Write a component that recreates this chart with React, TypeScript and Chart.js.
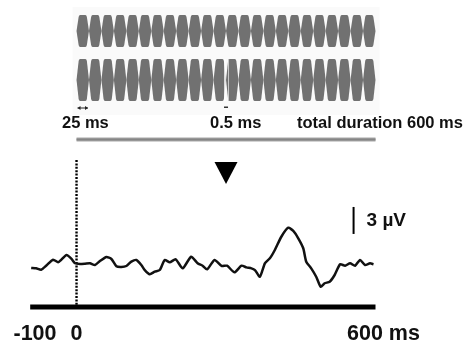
import React, { useEffect, useRef } from "react";
import { Chart, registerables } from "chart.js";

Chart.register(...registerables);

// ERP waveform (time in ms, amplitude in µV)
const timeMs = [
  -91, -81, -71, -61, -47, -37, -31, -20, -10, -3, 7, 17, 27, 37, 47, 60, 70, 80, 90, 100,
  110, 120, 130, 137, 147, 157, 167, 177, 187, 199, 213, 230, 243, 253, 262, 277, 291, 302,
  317, 331, 341, 351, 358, 368, 378, 388, 398, 411, 425, 435, 445, 455, 461, 471, 481, 490,
  498, 508, 518, 529, 539, 549, 559, 569, 579, 589, 596,
];
const amplitudeUv = [
  -0.33, -0.37, -0.52, -0.08, 0.59, 0.3, 0.56, 1.11, 0.67, 0.19, 0.11, 0.14, 0.19, 0.0, 0.44,
  0.89, 0.67, -0.14, -0.22, -0.11, 0.37, 0.56, 0.0, -0.56, -1.03, -0.74, -0.56, 0.56, 0.3,
  0.63, -0.37, 0.92, 0.19, -0.08, -0.48, 0.56, -0.11, -0.08, -0.81, -0.08, -0.26, -0.37,
  -0.56, -1.3, 0.19, 0.74, 1.67, 3.14, 4.14, 3.78, 2.97, 1.86, 0.37, -0.37, -1.3, -2.41,
  -2.03, -1.86, -1.11, 0.08, -0.08, 0.19, -0.08, 0.56, 0.0, 0.19, 0.08,
];

// Stimulus design
const stimPeriodMs = 25;
const totalDurationMs = 600;
const deviantMs = 300;
const scaleBarUv = 3;

// Text
const axisLabels = ["-100", "0", "600 ms"];
const stimLabels = ["25 ms", "0.5 ms", "total duration 600 ms"];
const scaleBarLabel = "3 µV";

const FONT = '"Liberation Sans", Arial, sans-serif';

const decorPlugin = {
  id: "decor",
  beforeDatasetsDraw(chart: any) {
    const ctx = chart.ctx as CanvasRenderingContext2D;
    const xs = (v: number) => chart.scales.x.getPixelForValue(v);
    const ys = (v: number) => chart.scales.y.getPixelForValue(v);
    ctx.save();
    // faint panel behind stimulus trains
    ctx.fillStyle = "#fafafa";
    ctx.fillRect(xs(0) - 4, 7, xs(totalDurationMs) - xs(0) + 8, 108);

    // stimulus trains
    const rows = [
      [15, 47],
      [59, 101],
    ];
    ctx.fillStyle = "#717171";
    const n = Math.round(totalDurationMs / stimPeriodMs);
    rows.forEach(([top, bottom]) => {
      const mid = (top + bottom) / 2;
      for (let i = 0; i < n; i++) {
        const x0 = xs(i * stimPeriodMs);
        const x1 = xs((i + 1) * stimPeriodMs);
        const w = x1 - x0;
        const inset = w * 0.17;
        ctx.beginPath();
        ctx.moveTo(x0, mid);
        ctx.lineTo(x0 + inset, top + 2);
        ctx.quadraticCurveTo(x0 + inset + 0.4, top, x0 + inset + 1.5, top);
        ctx.lineTo(x1 - inset - 1.5, top);
        ctx.quadraticCurveTo(x1 - inset - 0.4, top, x1 - inset, top + 2);
        ctx.lineTo(x1, mid);
        ctx.lineTo(x1 - inset, bottom - 2);
        ctx.quadraticCurveTo(x1 - inset - 0.4, bottom, x1 - inset - 1.5, bottom);
        ctx.lineTo(x0 + inset + 1.5, bottom);
        ctx.quadraticCurveTo(x0 + inset + 0.4, bottom, x0 + inset, bottom - 2);
        ctx.closePath();
        ctx.fill();
      }
    });
    // deviant gap in second row
    const [t2, b2] = rows[1];
    ctx.strokeStyle = "#ffffff";
    ctx.lineWidth = 1.5;
    ctx.beginPath();
    ctx.moveTo(xs(deviantMs) - 1, t2);
    ctx.lineTo(xs(deviantMs) - 1, b2);
    ctx.stroke();
    ctx.strokeStyle = "#c8c8c8";
    ctx.lineWidth = 1;
    ctx.beginPath();
    ctx.moveTo(xs(deviantMs) + 2.5, t2);
    ctx.lineTo(xs(deviantMs) + 2.5, b2);
    ctx.stroke();

    // 25 ms double arrow
    const ay = 108;
    const ax0 = xs(0) + 1;
    const ax1 = xs(stimPeriodMs) - 1;
    ctx.strokeStyle = "#222";
    ctx.fillStyle = "#222";
    ctx.lineWidth = 1;
    ctx.beginPath();
    ctx.moveTo(ax0, ay);
    ctx.lineTo(ax1, ay);
    ctx.stroke();
    ctx.beginPath();
    ctx.moveTo(ax0, ay);
    ctx.lineTo(ax0 + 3, ay - 2);
    ctx.lineTo(ax0 + 3, ay + 2);
    ctx.closePath();
    ctx.fill();
    ctx.beginPath();
    ctx.moveTo(ax1, ay);
    ctx.lineTo(ax1 - 3, ay - 2);
    ctx.lineTo(ax1 - 3, ay + 2);
    ctx.closePath();
    ctx.fill();
    // 0.5 ms tick
    ctx.fillStyle = "#333";
    ctx.fillRect(xs(deviantMs) - 2, 106.5, 4, 1.5);

    // labels
    ctx.fillStyle = "#111";
    ctx.font = `bold 16.5px ${FONT}`;
    ctx.textBaseline = "alphabetic";
    ctx.textAlign = "left";
    ctx.fillText(stimLabels[0], 62, 128);
    ctx.fillText(stimLabels[1], xs(deviantMs) - 16, 128);
    ctx.fillText(stimLabels[2], 297, 128);

    // total duration bar
    ctx.strokeStyle = "#a8a8a8";
    ctx.lineWidth = 4;
    ctx.beginPath();
    ctx.moveTo(xs(0), 139.5);
    ctx.lineTo(xs(totalDurationMs), 139.5);
    ctx.stroke();
    ctx.strokeStyle = "#858585";
    ctx.lineWidth = 2;
    ctx.beginPath();
    ctx.moveTo(xs(0), 139.5);
    ctx.lineTo(xs(totalDurationMs), 139.5);
    ctx.stroke();

    // deviant triangle
    const tx = xs(deviantMs);
    ctx.fillStyle = "#000";
    ctx.beginPath();
    ctx.moveTo(tx - 11.5, 162);
    ctx.lineTo(tx + 11.5, 162);
    ctx.lineTo(tx, 184);
    ctx.closePath();
    ctx.fill();

    // scale bar
    const sbx = xs(556);
    ctx.strokeStyle = "#000";
    ctx.lineWidth = 2;
    ctx.beginPath();
    ctx.moveTo(sbx, ys(3.45));
    ctx.lineTo(sbx, ys(3.45 + scaleBarUv));
    ctx.stroke();
    ctx.fillStyle = "#111";
    ctx.font = `bold 19px ${FONT}`;
    ctx.fillText(scaleBarLabel, sbx + 13, 226);

    // baseline
    const baseY = 307;
    ctx.strokeStyle = "#000";
    ctx.lineWidth = 5;
    ctx.beginPath();
    ctx.moveTo(xs(-93), baseY);
    ctx.lineTo(xs(totalDurationMs), baseY);
    ctx.stroke();

    // stimulus onset dotted line
    ctx.lineWidth = 2.4;
    ctx.setLineDash([2, 1.4]);
    ctx.beginPath();
    ctx.moveTo(xs(0), 160);
    ctx.lineTo(xs(0), baseY);
    ctx.stroke();
    ctx.setLineDash([]);

    // axis labels
    ctx.font = `bold 21.5px ${FONT}`;
    ctx.fillStyle = "#111";
    ctx.textAlign = "center";
    ctx.fillText(axisLabels[0], 35, 340);
    ctx.fillText(axisLabels[1], xs(0), 340);
    ctx.textAlign = "left";
    ctx.fillText(axisLabels[2], 347, 340);
    ctx.restore();
  },
};

export default function App() {
  const ref = useRef<HTMLCanvasElement | null>(null);
  useEffect(() => {
    if (!ref.current) return;
    const chart = new Chart(ref.current, {
      type: "line",
      data: {
        datasets: [
          {
            data: timeMs.map((t, i) => ({ x: t, y: amplitudeUv[i] })),
            borderColor: "#111",
            borderWidth: 2.5,
            pointRadius: 0,
            tension: 0.2,
            fill: false,
          },
        ],
      },
      options: {
        responsive: false,
        animation: false,
        devicePixelRatio: 1,
        layout: { padding: { left: 26.7, right: 92.5, top: 40, bottom: 6 } },
        plugins: { legend: { display: false }, tooltip: { enabled: false } },
        scales: {
          x: { type: "linear", min: -100, max: 600, display: false },
          y: { type: "linear", min: -8, max: 25, display: false },
        },
      },
      plugins: [decorPlugin],
    });
    return () => chart.destroy();
  }, []);
  return (
    <div style={{ position: "fixed", left: 0, top: 0, width: 468, height: 343, background: "#fff" }}>
      <canvas ref={ref} width={468} height={343} style={{ display: "block" }} />
    </div>
  );
}
